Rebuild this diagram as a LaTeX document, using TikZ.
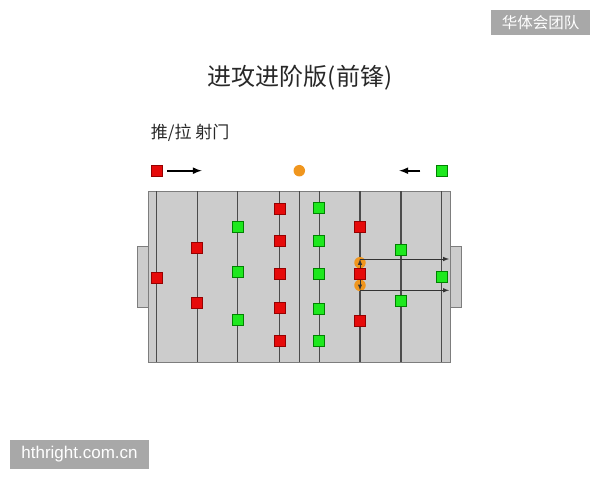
\documentclass[tikz,border=0pt]{standalone}
\usepackage{fontspec}
\setmainfont{Noto Sans CJK SC}
\usepackage{tikz}
\usetikzlibrary{arrows}
\definecolor{pitch}{RGB}{204,204,204}
\definecolor{pitchline}{RGB}{125,125,125}
\definecolor{rodgray}{RGB}{75,75,75}
\definecolor{redteam}{RGB}{230,10,10}
\definecolor{rededge}{RGB}{150,0,0}
\definecolor{greenteam}{RGB}{30,232,30}
\definecolor{greenedge}{RGB}{0,130,0}
\definecolor{ballorange}{RGB}{240,150,30}
\definecolor{markgray}{RGB}{168,168,168}
\definecolor{titlegray}{RGB}{40,40,40}

\begin{document}
\begin{tikzpicture}[x=1pt,y=-1pt,
    redman/.style={draw=rededge,fill=redteam,line width=0.7pt,minimum size=11pt,inner sep=0pt},
    greenman/.style={draw=greenedge,fill=greenteam,line width=0.7pt,minimum size=11pt,inner sep=0pt},
    ballmark/.style={circle,fill=ballorange,minimum size=11.5pt,inner sep=0pt},
    rod/.style={draw=rodgray,line width=1.4pt},
    shot/.style={draw=black!80,line width=1pt,-latex},
    hint/.style={draw=black,line width=2pt,-latex}]
  \useasboundingbox (0,0) rectangle (600,480);

  \path[fill=markgray] (491,10) rectangle (590,35);
  \node[text=white,font=\fontsize{15.5}{16}\selectfont] (team) at (540.5,22.5) {华体会团队};
  \path[fill=markgray] (10,440) rectangle (149,469);
  \node[text=white,font=\fontspec{Liberation Sans}\fontsize{17}{18}\selectfont] (site) at (79.5,454.5) {hthright.com.cn};

  \node[text=titlegray,font=\fontsize{24}{26}\selectfont] (title) at (300,77.7) {进攻进阶版(前锋)};
  \node[text=titlegray,font=\fontsize{17}{18}\selectfont,anchor=west,inner sep=0pt] (howto) at (150.7,133) {推/拉 射门};

  \node[redman] (keyred) at (157.3,170.7) {};
  \node[ballmark] (keyball) at (299.3,170.7) {};
  \node[greenman] (keygreen) at (442.3,170.7) {};
  \coordinate (pushend) at (201.7,170.7);
  \coordinate (pullend) at (399.3,170.7);
  \draw[hint] ([xshift=4pt]keyred.east) -- (pushend);
  \draw[hint] ([xshift=-16pt]keygreen.west) -- (pullend);

  \path[draw=pitchline,fill=pitch,line width=0.8pt] (137,246) rectangle (148,307);
  \path[draw=pitchline,fill=pitch,line width=0.8pt] (450,246) rectangle (461,307);
  \path[draw=pitchline,fill=pitch,line width=0.8pt] (148,191) rectangle (450,362);
  \foreach \x in {156.7,197.3,237.7,279.7,299.3,319.3,360,401,441.7} {
    \draw[rod] (\x,191) -- (\x,362);
  }

  \node[ballmark] (ballup) at (360,262.7) {};
  \node[ballmark] (balldown) at (360,285.3) {};

  \foreach \n/\x/\y in {keeper/156.7/277.7, backa/197.3/248.3, backb/197.3/303.3,
      mida/279.7/209, midb/279.7/240.7, midc/279.7/273.7, midd/279.7/308.3, mide/279.7/341.3,
      fwda/360/227, fwdb/360/273.7, fwdc/360/320.7} {
    \node[redman] (\n) at (\x,\y) {};
  }
  \foreach \n/\x/\y in {oppa/237.7/227, oppb/237.7/272, oppc/237.7/320.3,
      oppd/319.3/208.3, oppe/319.3/240.7, oppf/319.3/273.7, oppg/319.3/309, opph/319.3/341,
      oppi/401/250, oppj/401/301.3, goalie/441.7/277} {
    \node[greenman] (\n) at (\x,\y) {};
  }

  \coordinate (cornerup) at (360,259);
  \coordinate (cornerdown) at (360,290.3);
  \coordinate (goalup) at (449,259);
  \coordinate (goaldown) at (449,290.3);
  \draw[shot] (fwdb.north) -- (cornerup);
  \draw[shot] (fwdb.south) -- (cornerdown);
  \draw[shot] (cornerup) -- (goalup);
  \draw[shot] (cornerdown) -- (goaldown);
\end{tikzpicture}
\end{document}
